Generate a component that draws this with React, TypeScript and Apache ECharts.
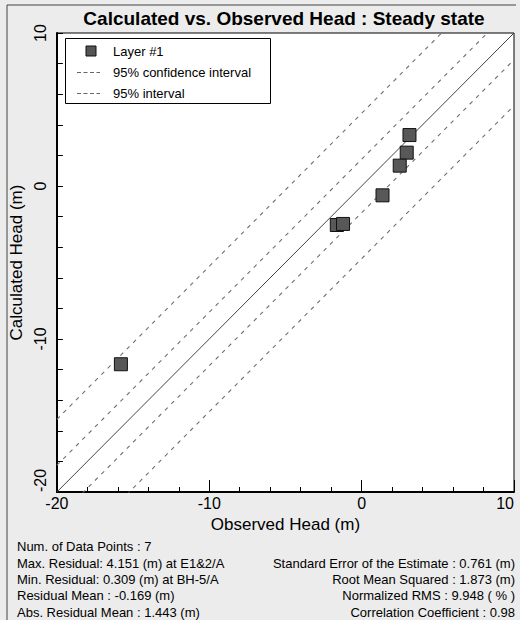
import React, { useEffect, useRef } from "react";
import * as echarts from "echarts";

const observedHead = [3.14, 2.96, 2.5, 1.37, -1.63, -1.22, -15.8];
const calculatedHead = [3.33, 2.18, 1.33, -0.61, -2.55, -2.48, -11.65];
const axisMin = -20;
const axisMax = 10;
const confidenceOffset = 1.75;
const intervalOffset = 4.75;
const legendNames = ["Layer #1", "95% confidence interval", "95% interval"];
const leftStats = [
  "Num. of Data Points : 7",
  "Max. Residual: 4.151 (m) at E1&2/A",
  "Min. Residual: 0.309 (m) at BH-5/A",
  "Residual Mean : -0.169 (m)",
  "Abs. Residual Mean : 1.443 (m)",
];
const rightStats = [
  "Standard Error of the Estimate : 0.761 (m)",
  "Root Mean Squared : 1.873 (m)",
  "Normalized RMS : 9.948 ( % )",
  "Correlation Coefficient : 0.98",
];

const FONT = 'Arial, "Liberation Sans", sans-serif';

function offsetLine(off: number) {
  return [
    [axisMin, axisMin + off],
    [axisMax, axisMax + off],
  ];
}

export default function App() {
  const ref = useRef<HTMLDivElement>(null);
  useEffect(() => {
    if (!ref.current) return;
    const chart = echarts.init(ref.current, undefined, { renderer: "svg" });
    const dashStyle = { color: "#707070", width: 1.1, type: [4, 5] as any };
    const graphics: any[] = [
      { type: "line", shape: { x1: 7, y1: 5, x2: 516, y2: 5 }, style: { stroke: "#444", lineWidth: 1 } },
      { type: "line", shape: { x1: 7, y1: 5, x2: 7, y2: 620 }, style: { stroke: "#444", lineWidth: 1 } },
      // legend
      {
        type: "rect",
        shape: { x: 65.5, y: 38.5, width: 205, height: 65 },
        style: { fill: "#fff", stroke: "#000", lineWidth: 1 },
        z: 10,
      },
      {
        type: "rect",
        shape: { x: 86, y: 46, width: 10, height: 10 },
        style: { fill: "#555", stroke: "#111", lineWidth: 1 },
        z: 11,
      },
      {
        type: "line",
        shape: { x1: 77, y1: 72.5, x2: 100, y2: 72.5 },
        style: { stroke: "#666", lineWidth: 1, lineDash: [4, 2.5] },
        z: 11,
      },
      {
        type: "line",
        shape: { x1: 77, y1: 93.5, x2: 100, y2: 93.5 },
        style: { stroke: "#666", lineWidth: 1, lineDash: [4, 2.5] },
        z: 11,
      },
    ];
    const legendY = [51, 72, 93];
    legendNames.forEach((t, i) => {
      graphics.push({
        type: "text",
        z: 11,
        style: { text: t, x: 113, y: legendY[i], fill: "#000", font: `13px ${FONT}`, align: "left", verticalAlign: "middle" },
      });
    });
    const rowY = [546, 563, 579, 595, 612];
    leftStats.forEach((t, i) => {
      graphics.push({
        type: "text",
        style: { text: t, x: 17, y: rowY[i], fill: "#000", font: `13px ${FONT}`, align: "left", verticalAlign: "middle" },
      });
    });
    rightStats.forEach((t, i) => {
      graphics.push({
        type: "text",
        style: { text: t, x: 515, y: rowY[i + 1], fill: "#000", font: `13px ${FONT}`, align: "right", verticalAlign: "middle" },
      });
    });
    chart.setOption({
      animation: false,
      backgroundColor: "#ececec",
      textStyle: { fontFamily: FONT },
      title: {
        text: "Calculated vs. Observed Head : Steady state",
        left: 284,
        top: 9,
        padding: 0,
        textAlign: "center",
        textStyle: { fontSize: 19, fontWeight: "bold", color: "#000", fontFamily: FONT },
      },
      grid: {
        left: 55,
        top: 33,
        width: 459,
        height: 459,
        show: true,
        backgroundColor: "#fff",
        borderColor: "#000",
        borderWidth: 1,
      },
      xAxis: {
        type: "value",
        min: axisMin,
        max: axisMax,
        interval: 10,
        name: "Observed Head (m)",
        nameLocation: "middle",
        nameGap: 22,
        nameTextStyle: { fontSize: 17, fontWeight: "normal", color: "#000", fontFamily: FONT },
        axisLine: { onZero: false, lineStyle: { color: "#000", width: 2 } },
        axisTick: { inside: true, length: 12, lineStyle: { color: "#000" } },
        minorTick: { show: true, splitNumber: 5, length: 5, lineStyle: { color: "#000" } },
        splitLine: { show: false },
        axisLabel: { fontSize: 16, color: "#000", margin: 3, alignMaxLabel: "right", fontFamily: FONT },
      },
      yAxis: {
        type: "value",
        min: axisMin,
        max: axisMax,
        interval: 10,
        name: "Calculated Head (m)",
        nameLocation: "middle",
        nameGap: 20,
        nameTextStyle: { fontSize: 17, fontWeight: "normal", color: "#000", fontFamily: FONT },
        axisLine: { onZero: false, lineStyle: { color: "#000", width: 2 } },
        axisTick: { inside: true, length: 6, lineStyle: { color: "#000" } },
        minorTick: { show: true, splitNumber: 5, length: 6, lineStyle: { color: "#000" } },
        splitLine: { show: false },
        axisLabel: { fontSize: 16, color: "#000", margin: 8, rotate: 90, alignMinLabel: "left", fontFamily: FONT },
      },
      series: [
        {
          name: "1:1",
          type: "line",
          data: offsetLine(0),
          symbol: "none",
          lineStyle: { color: "#444", width: 1 },
          silent: true,
          z: 2,
        },
        {
          name: legendNames[1],
          type: "line",
          data: offsetLine(confidenceOffset),
          symbol: "none",
          lineStyle: dashStyle,
          z: 2,
        },
        {
          name: legendNames[1],
          type: "line",
          data: offsetLine(-confidenceOffset),
          symbol: "none",
          lineStyle: dashStyle,
          z: 2,
        },
        {
          name: legendNames[2],
          type: "line",
          data: offsetLine(intervalOffset),
          symbol: "none",
          lineStyle: dashStyle,
          z: 2,
        },
        {
          name: legendNames[2],
          type: "line",
          data: offsetLine(-intervalOffset),
          symbol: "none",
          lineStyle: dashStyle,
          z: 2,
        },
        {
          name: legendNames[0],
          type: "scatter",
          symbol: "rect",
          symbolSize: 13,
          data: observedHead.map((x, i) => [x, calculatedHead[i]]),
          itemStyle: { color: "#585858", borderColor: "#111", borderWidth: 1, opacity: 1 },
          z: 5,
        },
      ],
      graphic: graphics,
    });
    return () => chart.dispose();
  }, []);
  return (
    <div
      ref={ref}
      style={{ position: "fixed", left: 0, top: 0, width: 520, height: 620, background: "#ececec" }}
    />
  );
}
